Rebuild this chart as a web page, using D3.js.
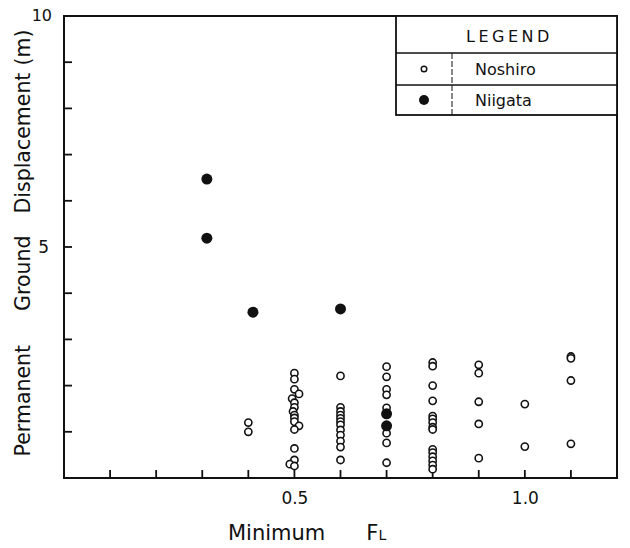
<!DOCTYPE html>
<html>
<head>
<meta charset="utf-8">
<script src="https://cdn.jsdelivr.net/npm/d3@7"></script>
<style>
  body { margin: 0; background: #fff; }
  text { font-family: "DejaVu Sans", "Liberation Sans", sans-serif; fill: #111; }
</style>
</head>
<body>
<script>
// data: minimum FL vs permanent ground displacement (m)
const noshiroFL = [
  0.4, 0.4,
  0.5, 0.5, 0.5, 0.51, 0.495, 0.5, 0.5, 0.497, 0.5, 0.5, 0.5, 0.51, 0.5, 0.5, 0.5, 0.49, 0.5,
  0.6, 0.6, 0.6, 0.6, 0.6, 0.6, 0.6, 0.6, 0.6, 0.6, 0.6, 0.6,
  0.7, 0.7, 0.7, 0.7, 0.7, 0.7, 0.7, 0.7,
  0.8, 0.8, 0.8, 0.8, 0.8, 0.8, 0.8, 0.8, 0.8, 0.8, 0.8, 0.8, 0.8, 0.8, 0.8,
  0.9, 0.9, 0.9, 0.9, 0.9,
  1.0, 1.0,
  1.1, 1.1, 1.1, 1.1
];
const noshiroDisp = [
  1.2, 1.0,
  2.27, 2.14, 1.92, 1.82, 1.72, 1.63, 1.53, 1.44, 1.36, 1.3, 1.22, 1.13, 1.05, 0.64, 0.39, 0.3, 0.26,
  2.21, 1.53, 1.44, 1.36, 1.29, 1.22, 1.15, 1.04, 0.93, 0.8, 0.67, 0.39,
  2.41, 2.19, 1.92, 1.8, 1.52, 0.97, 0.76, 0.33,
  2.5, 2.42, 2.0, 1.67, 1.34, 1.28, 1.2, 1.1, 1.05, 0.62, 0.55, 0.46, 0.37, 0.28, 0.19,
  2.45, 2.27, 1.65, 1.17, 0.43,
  1.6, 0.68,
  2.63, 2.59, 2.11, 0.74
];
const niigataFL = [0.31, 0.31, 0.41, 0.6, 0.7, 0.7];
const niigataDisp = [6.47, 5.19, 3.59, 3.66, 1.39, 1.13];

const xTicks = [0.1, 0.2, 0.3, 0.4, 0.5, 0.6, 0.7, 0.8, 0.9, 1.0, 1.1];
const yTicks = [1, 2, 3, 4, 5, 6, 7, 8, 9];
const xTickLabels = {0.5: "0.5", 1.0: "1.0"};
const yTickLabels = {5: "5"};
const legendItems = ["Noshiro", "Niigata"];

const W = 630, H = 548;
const margin = {top: 16, right: 13, bottom: 70, left: 64},
    width = W - margin.left - margin.right,
    height = H - margin.top - margin.bottom;

var x = d3.scaleLinear().domain([0, 1.2]).range([0, width]);
var y = d3.scaleLinear().domain([0, 10]).range([height, 0]);

var svg = d3.select("body").append("svg")
    .attr("width", W)
    .attr("height", H)
  .append("g")
    .attr("transform", "translate(" + margin.left + "," + margin.top + ")");

// axes only give the labels, tick marks are drawn below (pointing inward)
var xAxis = svg.append("g")
    .attr("transform", "translate(0," + height + ")")
    .call(d3.axisBottom(x).tickValues(xTicks).tickSize(0).tickPadding(14)
        .tickFormat(d => xTickLabels[d] || ""));

var yAxis = svg.append("g")
    .call(d3.axisLeft(y).tickValues(yTicks).tickSize(0).tickPadding(15)
        .tickFormat(d => yTickLabels[d] || ""));

[xAxis, yAxis].forEach(a => {
  a.select(".domain").remove();
  a.selectAll(".tick text").attr("font-size", 17).attr("fill", "#111")
      .style("font-family", "DejaVu Sans, sans-serif");
});

svg.selectAll(".xtick")
    .data(xTicks)
  .enter().append("line")
    .attr("x1", d => x(d)).attr("x2", d => x(d))
    .attr("y1", height).attr("y2", height - 8)
    .attr("stroke", "#111").attr("stroke-width", 1.8);

svg.selectAll(".ytick")
    .data(yTicks)
  .enter().append("line")
    .attr("x1", 0).attr("x2", 8)
    .attr("y1", d => y(d)).attr("y2", d => y(d))
    .attr("stroke", "#111").attr("stroke-width", 1.8);

// "10" label sits at the top corner
svg.append("text")
    .attr("x", -12).attr("y", y(10) + 5)
    .attr("text-anchor", "end")
    .attr("font-size", 16)
    .text("10");

// frame
svg.append("rect")
    .attr("width", width).attr("height", height)
    .attr("fill", "none").attr("stroke", "#111").attr("stroke-width", 2);

// Noshiro: open circles
svg.selectAll(".nosh")
    .data(noshiroFL.map((f, i) => [f, noshiroDisp[i]]))
  .enter().append("circle")
    .attr("class", "nosh")
    .attr("cx", d => x(d[0]))
    .attr("cy", d => y(d[1]))
    .attr("r", 3.6)
    .attr("fill", "#fff")
    .attr("stroke", "#111")
    .attr("stroke-width", 1.6);

// Niigata: filled circles
svg.selectAll(".niig")
    .data(niigataFL.map((f, i) => [f, niigataDisp[i]]))
  .enter().append("circle")
    .attr("class", "niig")
    .attr("cx", d => x(d[0]))
    .attr("cy", d => y(d[1]))
    .attr("r", 5.5)
    .attr("fill", "#111");

// legend table in the top right corner
const lg = {x0: 396 - margin.left, x1: width, col: 452 - margin.left, rows: [0, 37, 69, 99]};
var legend = svg.append("g");
legend.append("rect")
    .attr("x", lg.x0).attr("y", 0)
    .attr("width", lg.x1 - lg.x0).attr("height", lg.rows[3])
    .attr("fill", "#fff").attr("stroke", "#111").attr("stroke-width", 1.8);
legend.selectAll(".hl")
    .data([lg.rows[1], lg.rows[2]])
  .enter().append("line")
    .attr("x1", lg.x0).attr("x2", lg.x1)
    .attr("y1", d => d).attr("y2", d => d)
    .attr("stroke", "#111").attr("stroke-width", 1.4);
legend.append("line")
    .attr("x1", lg.col).attr("x2", lg.col)
    .attr("y1", lg.rows[1]).attr("y2", lg.rows[3])
    .attr("stroke", "#111").attr("stroke-width", 1)
    .attr("stroke-dasharray", "6,2");
legend.append("text")
    .attr("x", (lg.x0 + lg.x1) / 2 + 3).attr("y", lg.rows[1] / 2 + 7)
    .attr("text-anchor", "middle")
    .attr("font-size", 16)
    .attr("letter-spacing", 3.5)
    .text("LEGEND");
legendItems.forEach((name, i) => {
  const cy = (lg.rows[i + 1] + lg.rows[i + 2]) / 2;
  legend.append("circle")
      .attr("cx", (lg.x0 + lg.col) / 2).attr("cy", cy)
      .attr("r", i == 0 ? 2.8 : 5)
      .attr("fill", i == 0 ? "#fff" : "#111")
      .attr("stroke", "#111").attr("stroke-width", i == 0 ? 1.4 : 0);
  legend.append("text")
      .attr("x", lg.col + 23).attr("y", cy + 6)
      .attr("font-size", 16)
      .text(name);
});

// axis titles (words spread out like the original lettering)
const yWords = ["Permanent", "Ground", "Displacement", "(m)"];
const yGaps = [0, 34, 22, 7];
var yl = svg.append("text")
    .attr("transform", `translate(${-margin.left + 30},${height / 2 - 4}) rotate(-90)`)
    .attr("text-anchor", "middle")
    .attr("font-size", 20.5);
yWords.forEach((w, i) => {
  yl.append("tspan").attr("dx", yGaps[i]).text(w);
});

var xl = svg.append("text")
    .attr("x", 228 - margin.left).attr("y", height + 62)
    .attr("font-size", 21);
xl.append("tspan").text("Minimum");
xl.append("tspan").attr("dx", 41).text("F");
xl.append("tspan").attr("font-size", 14).text("L");
</script>
</body>
</html>
